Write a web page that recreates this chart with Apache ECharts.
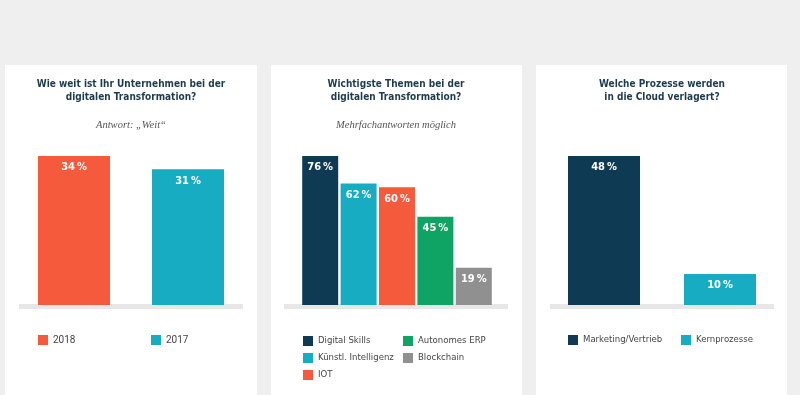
<!DOCTYPE html>
<html>
<head>
<meta charset="utf-8">
<script src="https://cdn.jsdelivr.net/npm/echarts@6/dist/echarts.min.js"></script>
<style>
html,body{margin:0;padding:0;background:#efefef;}
#chart{width:800px;height:395px;}
</style>
</head>
<body>
<div id="chart"></div>
<script>
// ---- data ----
const titles = [
  'Wie weit ist Ihr Unternehmen bei der\ndigitalen Transformation?',
  'Wichtigste Themen bei der\ndigitalen Transformation?',
  'Welche Prozesse werden\nin die Cloud verlagert?'
];
const subtitles = ['Antwort: \u201EWeit\u201C', 'Mehrfachantworten m\u00F6glich', ''];

const progressCategories = ['2018', '2017'];
const progressValues = [34, 31];

const topicCategories = ['Digital Skills', 'K\u00FCnstl. Intelligenz', 'IOT', 'Autonomes ERP', 'Blockchain'];
const topicValues = [76, 62, 60, 45, 19];

const cloudCategories = ['Marketing/Vertrieb', 'Kernprozesse'];
const cloudValues = [48, 10];

// ---- styles / layout ----
const C = { orange: '#f55a3c', teal: '#17acc1', navy: '#0e3b53', green: '#10a464', grey: '#909090' };
const panelColors = [
  [C.orange, C.teal],
  [C.navy, C.teal, C.orange, C.green, C.grey],
  [C.navy, C.teal]
];
const panels = [
  { cats: progressCategories, vals: progressValues, grid: { left: 17, width: 228 }, barWidth: 72, card: [5, 252], band: [19, 243], cx: 131,
    legendPos: [[38, 335], [151, 335]] },
  { cats: topicCategories, vals: topicValues, grid: { left: 301, width: 192 }, barWidth: 36, card: [271, 251], band: [284, 508], cx: 396,
    legendPos: [[303, 336], [303, 353], [303, 370], [403, 336], [403, 353]] },
  { cats: cloudCategories, vals: cloudValues, grid: { left: 546, width: 232 }, barWidth: 72, card: [536, 251], band: [550, 774], cx: 662,
    legendPos: [[568, 335], [681, 335]] }
];
const condFont = "'DejaVu Sans Condensed','Roboto Condensed',Roboto,sans-serif";
const serifFont = "'Liberation Serif','DejaVu Serif',serif";

const option = {
  backgroundColor: '#efefef',
  animation: false,
  title: [], grid: [], xAxis: [], yAxis: [], series: [], legend: [],
  graphic: { elements: [] }
};

panels.forEach((p, pi) => {
  option.graphic.elements.push({
    type: 'rect', z: -10, shape: { x: p.card[0], y: 65, width: p.card[1], height: 340 },
    style: { fill: '#ffffff' }, silent: true
  });
  option.graphic.elements.push({
    type: 'rect', z: -9, shape: { x: p.band[0], y: 304, width: p.band[1] - p.band[0], height: 5 },
    style: { fill: '#e7e7e7' }, silent: true
  });
  option.title.push({
    text: titles[pi], subtext: subtitles[pi],
    left: p.cx, top: 78, textAlign: 'center', padding: 0, itemGap: 15,
    textStyle: { fontFamily: condFont, fontSize: 10, fontWeight: 'bold', color: '#1c3b4d', lineHeight: 13 },
    subtextStyle: { fontFamily: serifFont, fontStyle: 'italic', fontSize: 10.5, color: '#555555', lineHeight: 13 }
  });
  option.grid.push({ left: p.grid.left, width: p.grid.width, top: 156, bottom: 395 - 305 });
  option.xAxis.push({ type: 'category', gridIndex: pi, data: p.cats, show: false });
  option.yAxis.push({ type: 'value', gridIndex: pi, min: 0, max: Math.max(...p.vals), show: false, splitLine: { show: false } });
  p.cats.forEach((cat, i) => {
    option.series.push({
      type: 'bar', name: cat, xAxisIndex: pi, yAxisIndex: pi,
      data: p.cats.map((c, j) => (j === i ? p.vals[i] : '-')),
      barWidth: p.barWidth, barGap: '-100%',
      itemStyle: { color: panelColors[pi][i] },
      label: {
        show: true, position: 'insideTop', distance: 6,
        formatter: '{c}\u2009%', color: '#ffffff', fontFamily: condFont,
        fontWeight: 'bold', fontSize: 11
      }
    });
    option.legend.push({
      data: [cat], left: p.legendPos[i][0], top: p.legendPos[i][1], padding: 0,
      icon: 'rect', itemWidth: 10, itemHeight: 10, selectedMode: false,
      textStyle: { fontFamily: pi === 0 ? 'Roboto,sans-serif' : condFont, fontSize: pi === 0 ? 10 : 9.5, color: '#444444' }
    });
  });
});

const chart = echarts.init(document.getElementById('chart'), null, { renderer: 'canvas' });
chart.setOption(option);
</script>
</body>
</html>
